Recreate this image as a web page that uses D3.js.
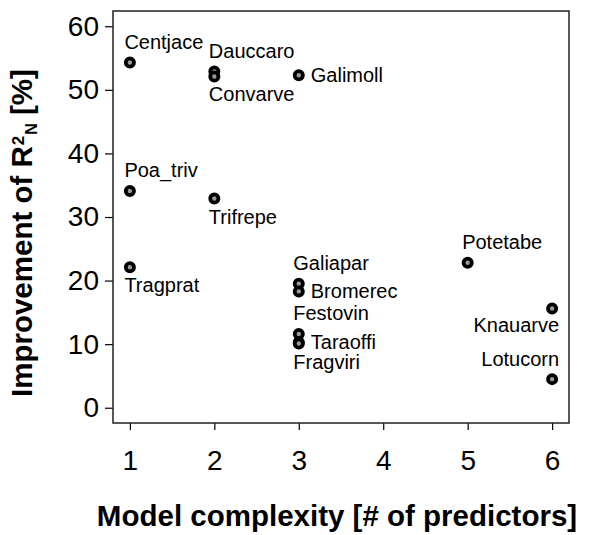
<!DOCTYPE html>
<html>
<head>
<meta charset="utf-8">
<script src="https://cdn.jsdelivr.net/npm/d3@7"></script>
<style>
  html, body { margin: 0; padding: 0; background: #fff; }
  svg { display: block; }
  text { font-family: "Liberation Sans", Arial, sans-serif; fill: #000; }
</style>
</head>
<body>
<svg id="chart" width="591" height="535"></svg>
<script>
// ---- data ----
const species    = ["Centjace","Dauccaro","Convarve","Galimoll","Poa_triv","Trifrepe","Tragprat",
                    "Galiapar","Bromerec","Festovin","Taraoffi","Fragviri","Potetabe","Knauarve","Lotucorn"];
const predictors = [1, 2, 2, 3, 1, 2, 1, 3, 3, 3, 3, 3, 5, 6, 6];
const improvement = [54.3, 52.9, 52.1, 52.3, 34.1, 32.9, 22.1, 19.5, 18.3, 11.6, 10.3, 10.1, 22.8, 15.6, 4.5];
// label placement relative to point: above / below / right / aboveL / belowL (right-aligned)
const labelPlace = ["above","above","below","right","above","below","below",
                    "above","right","above","right","below","above","belowL","aboveL"];
const xTicks = [1, 2, 3, 4, 5, 6];
const yTicks = [0, 10, 20, 30, 40, 50, 60];
const xTitle = "Model complexity [# of predictors]";

// ---- layout ----
const svg = d3.select("#chart");
const L = 113, R = 569, T = 11, B = 423;
const x = d3.scaleLinear().domain([0.8, 6.2]).range([L, R]);
const y = d3.scaleLinear().domain([-2.4, 62.4]).range([B, T]);
const FONT = "'Liberation Sans', Arial, sans-serif";

// axes (ticks only, box drawn separately)
const yAxis = d3.axisLeft(y).tickValues(yTicks).tickFormat(d3.format("d")).tickSize(8).tickPadding(6);
const gy = svg.append("g").attr("transform", `translate(${L},0)`).call(yAxis);
gy.select(".domain").remove();
gy.selectAll("line").attr("stroke", "#000").attr("stroke-width", 1.2);
gy.selectAll("text").style("font-size", "28px").attr("fill", "#000").style("font-family", FONT);

const xAxis = d3.axisBottom(x).tickValues(xTicks).tickFormat(d3.format("d")).tickSize(7).tickPadding(20);
const gx = svg.append("g").attr("transform", `translate(0,${B})`).call(xAxis);
gx.select(".domain").remove();
gx.selectAll("line").attr("stroke", "#000").attr("stroke-width", 1.2);
gx.selectAll("text").style("font-size", "28px").attr("fill", "#000").style("font-family", FONT);

// plot box
svg.append("rect").attr("x", L).attr("y", T).attr("width", R - L).attr("height", B - T)
  .attr("fill", "none").attr("stroke", "#222").attr("stroke-width", 1.5);

// points
const data = species.map((s, i) => ({ s, px: predictors[i], v: improvement[i], p: labelPlace[i] }));
svg.append("g").selectAll("circle").data(data).join("circle")
  .attr("cx", d => x(d.px)).attr("cy", d => y(d.v)).attr("r", 4.1)
  .attr("fill", "#9a9a9a").attr("stroke", "#000").attr("stroke-width", 3.8);

// labels
const off = {
  above:  { dx: -5.5, dy: -13.5, anchor: "start" },
  below:  { dx: -5.5, dy: 25,    anchor: "start" },
  right:  { dx: 12,   dy: 7,     anchor: "start" },
  aboveL: { dx: 7,    dy: -13,   anchor: "end" },
  belowL: { dx: 7,    dy: 23,    anchor: "end" }
};
svg.append("g").selectAll("text").data(data).join("text")
  .attr("x", d => x(d.px) + off[d.p].dx)
  .attr("y", d => y(d.v) + off[d.p].dy)
  .attr("text-anchor", d => off[d.p].anchor)
  .style("font-size", "20px").style("font-family", FONT)
  .text(d => d.s);

// x title
svg.append("text").attr("x", 337).attr("y", 526).attr("text-anchor", "middle")
  .style("font-size", "29.5px").style("font-weight", "bold").style("font-family", FONT).text(xTitle);

// y title (rotated)
const yt = svg.append("text")
  .attr("transform", "translate(32,397) rotate(-90)")
  .attr("x", 0).attr("y", 0).attr("text-anchor", "start")
  .style("font-size", "29.5px").style("font-weight", "bold").style("font-family", FONT);
yt.append("tspan").text("Improvement of R");
yt.append("tspan").attr("dx", 1).attr("dy", -8.5).style("font-size", "17px").text("2");
yt.append("tspan").attr("dx", 1).attr("dy", 13.5).style("font-size", "16px").text("N");
yt.append("tspan").attr("dy", -5).text(" [%]");
</script>
</body>
</html>
